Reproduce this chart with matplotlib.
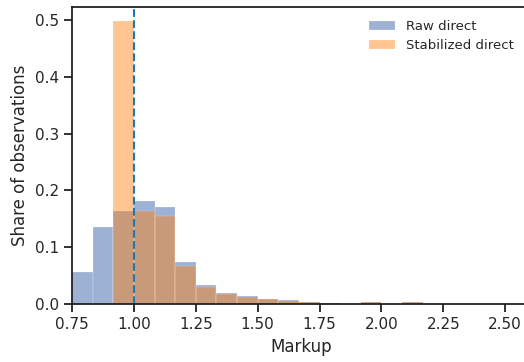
import numpy as np
import matplotlib
matplotlib.use("Agg")
import matplotlib.pyplot as plt
import seaborn as sns

# histogram bin edges (width 1/12 starting at 0.75)
bin_edges = 0.75 + np.arange(18) / 12

# share of observations per bin
raw_direct = [0.057, 0.136, 0.164, 0.181, 0.171, 0.074, 0.033, 0.019, 0.014,
              0.0088, 0.007, 0.0035, 0.0025, 0.0, 0.0032, 0.0, 0.0032]
stabilized_direct = [0.0, 0.0, 0.498, 0.164, 0.155, 0.067, 0.030, 0.018, 0.012,
                     0.0088, 0.005, 0.0035, 0.0025, 0.0, 0.0032, 0.0, 0.0032]

sns.set_theme(style="ticks", context="notebook")

fig = plt.figure(figsize=(5.24, 3.62), dpi=100)
ax = fig.add_axes([0.1374, 0.1602, 0.874, 0.8204])

centers = (bin_edges[:-1] + bin_edges[1:]) / 2
ax.hist(centers, bins=bin_edges, weights=raw_direct, color="#4c72b0",
        alpha=0.55, edgecolor=(1, 1, 1, 0.6), linewidth=0.3, label="Raw direct")
ax.hist(centers, bins=bin_edges, weights=stabilized_direct, color="#ff7f0e",
        alpha=0.45, edgecolor=(1, 1, 1, 0.6), linewidth=0.3,
        label="Stabilized direct")

# reference markup of 1
ax.axvline(1.0, color="#1f77b4", linestyle="--", linewidth=1.5)

ax.set_xlim(0.75, 2.6)
ax.set_ylim(0, 0.523)
ax.set_xticks([0.75, 1.0, 1.25, 1.5, 1.75, 2.0, 2.25, 2.5])
ax.set_xticklabels(["0.75", "1.00", "1.25", "1.50", "1.75", "2.00", "2.25", "2.50"])
ax.set_yticks([0.0, 0.1, 0.2, 0.3, 0.4, 0.5])
ax.spines["right"].set_visible(False)
for s in ax.spines.values():
    s.set_color("#1a1a1a")
ax.tick_params(color="#1a1a1a")

ax.set_xlabel("Markup")
ax.set_ylabel("Share of observations")
ax.legend(frameon=False, loc="upper right", bbox_to_anchor=(0.99, 0.997),
          fontsize=9.5)

fig.savefig("out.png", dpi=100)
